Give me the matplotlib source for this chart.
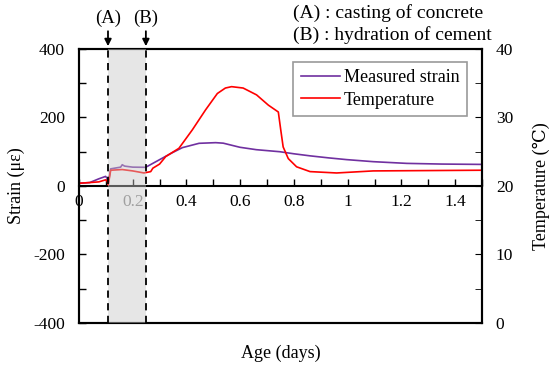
import matplotlib
matplotlib.use('Agg')
from matplotlib import pyplot as plt
from matplotlib.ticker import MultipleLocator
import numpy as np

plt.rcParams['font.family'] = ['Liberation Serif', 'DejaVu Serif']
plt.rcParams['axes.unicode_minus'] = False

# measured strain (micro strain) vs age (days)
strain_age = [0, 0.04, 0.074, 0.099, 0.105, 0.109, 0.118, 0.14, 0.155, 0.161, 0.17, 0.2, 0.248,
              0.298, 0.347, 0.385, 0.447, 0.509, 0.537, 0.599, 0.66, 0.748, 0.8, 0.86, 0.93,
              0.996, 1.095, 1.22, 1.35, 1.5]
strain = [8, 10, 21, 28, 22, 8, 50, 53, 55, 62, 58, 55, 54.5,
          76, 97, 112, 124.6, 126.5, 125, 113, 106, 100, 94, 88, 82,
          77, 71, 66, 64, 63]

# temperature (deg C) vs age (days)
temp_age = [0, 0.04, 0.074, 0.099, 0.105, 0.109, 0.118, 0.161, 0.2, 0.242, 0.267, 0.275,
            0.3, 0.323, 0.372, 0.422, 0.471, 0.515, 0.545, 0.568, 0.611, 0.661, 0.705,
            0.742, 0.751, 0.76, 0.779, 0.81, 0.86, 0.959, 1.095, 1.3, 1.5]
temp = [20.4, 20.5, 20.6, 20.9, 20.7, 20.15, 22.3, 22.4, 22.2, 21.9, 22.1, 22.6,
        23.2, 24.3, 25.5, 28.2, 31.1, 33.5, 34.3, 34.5, 34.3, 33.3, 31.8,
        30.8, 28.2, 25.7, 24.0, 22.8, 22.1, 21.9, 22.2, 22.25, 22.3]

casting_age = 0.108
hydration_age = 0.249

fig = plt.figure(figsize=(5.5, 3.65), dpi=100)
ax = fig.add_axes([0.1436, 0.1151, 0.7327, 0.7507])
ax2 = ax.twinx()

l1, = ax.plot(strain_age, strain, color='#7030a0', lw=1.2, label='Measured strain')
l2, = ax2.plot(temp_age, temp, color='#ff0000', lw=1.2, label='Temperature')

# translucent shade over the lines between (A) and (B)
ax2.axvspan(casting_age, hydration_age, color='#c8c8c8', alpha=0.45, lw=0, zorder=5)
ax2.axvline(casting_age, color='black', ls=(0, (4, 3)), lw=1.3, zorder=6)
ax2.axvline(hydration_age, color='black', ls=(0, (4, 3)), lw=1.3, zorder=6)

ax.set_xlim(0, 1.5)
ax.set_ylim(-400, 400)
ax2.set_ylim(0, 40)

ax.xaxis.set_minor_locator(MultipleLocator(0.1))
ax.yaxis.set_major_locator(MultipleLocator(200))
ax.yaxis.set_minor_locator(MultipleLocator(100))
ax2.yaxis.set_major_locator(MultipleLocator(10))
ax2.yaxis.set_minor_locator(MultipleLocator(5))
ax.set_xticks([0, 0.2, 0.4, 0.6, 0.8, 1.0, 1.2, 1.4])
ax.set_xticklabels(['0', '0.2', '0.4', '0.6', '0.8', '1', '1.2', '1.4'])

ax.spines['bottom'].set_position(('data', 0))
ax.axhline(-400, color='black', lw=1.5, clip_on=False)
for s in ['left', 'right', 'top', 'bottom']:
    ax.spines[s].set_linewidth(1.5)
    ax2.spines[s].set_linewidth(1.5)

ax.tick_params(axis='both', which='both', direction='in', labelsize=12.5, width=1, length=5)
ax.tick_params(axis='x', pad=6)
ax.tick_params(axis='y', pad=10)
ax2.tick_params(axis='y', which='both', direction='in', labelsize=12.5, length=5, pad=10)
ax.get_xticklabels()[1].set_color('gray')

ax.set_ylabel('Strain (με)', fontsize=13, labelpad=6)
ax2.set_ylabel('Temperature (℃)', fontsize=13, labelpad=14)
ax.set_xlabel('Age (days)', fontsize=13)
ax.xaxis.set_label_coords(0.5, -0.08)

leg = ax2.legend(handles=[l1, l2], loc='upper right', fontsize=13, frameon=True,
                 fancybox=False, edgecolor='gray', handlelength=2.2, handletextpad=0.2,
                 borderpad=0.4, labelspacing=0.3, bbox_to_anchor=(0.985, 0.985))
leg.get_frame().set_linewidth(1.2)
leg.set_zorder(10)

for xv, name in [(casting_age, '(A)'), (hydration_age, '(B)')]:
    ax.annotate('', xy=(xv, 1.0), xycoords=('data', 'axes fraction'),
                xytext=(xv, 1.075), textcoords=('data', 'axes fraction'),
                arrowprops=dict(arrowstyle='-|>', color='black', lw=1.3), annotation_clip=False)
    ax.text(xv, 1.08, name, transform=ax.get_xaxis_transform(), ha='center', va='bottom',
            fontsize=13.5)

fig.text(0.533, 0.963, '(A) : casting of concrete', fontsize=14, va='center')
fig.text(0.533, 0.903, '(B) : hydration of cement', fontsize=14, va='center')

fig.savefig('out.png', dpi=100)
